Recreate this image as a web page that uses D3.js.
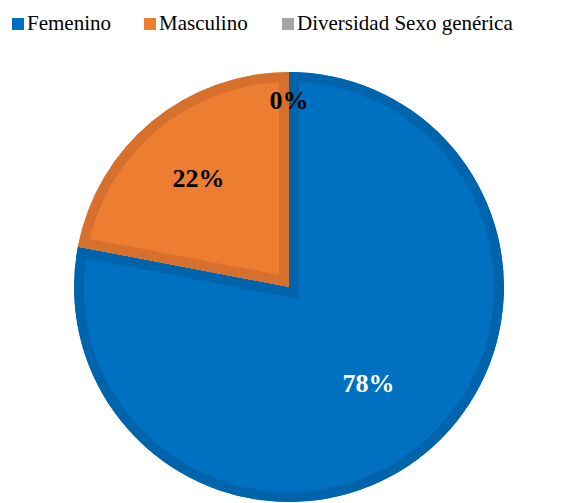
<!DOCTYPE html>
<html>
<head>
<meta charset="utf-8">
<script src="https://cdnjs.cloudflare.com/ajax/libs/d3/7.8.5/d3.min.js"></script>
</head>
<body style="margin:0;background:#fff">
<div id="chart"></div>
<script>
// data
var categories = ["Femenino", "Masculino", "Diversidad Sexo genérica"];
var values = [78, 22, 0];
var fills = ["#0070c0", "#ed7d31", "#a5a5a5"];
var borders = ["#0064ad", "#d6702c", "#959595"];
var labelColors = ["#ffffff", "#000000", "#000000"];

var width = 576, height = 503;
var cx = 289, cy = 287, radius = 215;
var labelRadius = [0.58, 0.66, 0.87];
var legendX = [12, 144, 282];

var svg = d3.select("#chart")
	.append("svg")
	.attr("width", width)
	.attr("height", height)
	.attr("font-family", "Times New Roman");

var pie = d3.pie().sort(null).value(function (d) { return d; });
var arcs = pie(values);

var arc = d3.arc().innerRadius(0).outerRadius(radius);

var g = svg.append("g")
	.attr("transform", "translate(" + cx + "," + cy + ")");

var defs = svg.append("defs");
arcs.forEach(function (d, i) {
	defs.append("clipPath")
		.attr("id", "clip" + i)
		.append("path")
		.attr("d", arc(d));
});

// slices with inset darker border
g.selectAll(".slice")
	.data(arcs)
	.enter().append("path")
	.attr("class", "slice")
	.attr("d", arc)
	.attr("fill", function (d, i) { return fills[i]; })
	.attr("stroke", function (d, i) { return borders[i]; })
	.attr("stroke-width", 20)
	.attr("clip-path", function (d, i) { return "url(#clip" + i + ")"; });

// labels
svg.selectAll("text.pct")
	.data(arcs)
	.enter().append("text")
	.attr("class", "pct")
	.attr("x", function (d, i) {
		var r = radius * labelRadius[i];
		return cx + d3.arc().innerRadius(r).outerRadius(r).centroid(d)[0];
	})
	.attr("y", function (d, i) {
		var r = radius * labelRadius[i];
		return cy + d3.arc().innerRadius(r).outerRadius(r).centroid(d)[1] + 9;
	})
	.attr("text-anchor", "middle")
	.attr("font-family", "Times New Roman")
	.attr("font-size", 26)
	.attr("font-weight", "bold")
	.attr("fill", function (d, i) { return labelColors[i]; })
	.text(function (d) { return d.data + "%"; });

// legend
svg.selectAll("rect.key")
	.data(categories)
	.enter().append("rect")
	.attr("class", "key")
	.attr("x", function (d, i) { return legendX[i]; })
	.attr("y", 18)
	.attr("width", 12)
	.attr("height", 12)
	.attr("fill", function (d, i) { return fills[i]; });

svg.selectAll("text.key")
	.data(categories)
	.enter().append("text")
	.attr("class", "key")
	.attr("x", function (d, i) { return legendX[i] + 15; })
	.attr("y", 30)
	.attr("font-family", "Times New Roman")
	.attr("font-size", 21)
	.text(function (d) { return d; });
</script>
</body>
</html>
